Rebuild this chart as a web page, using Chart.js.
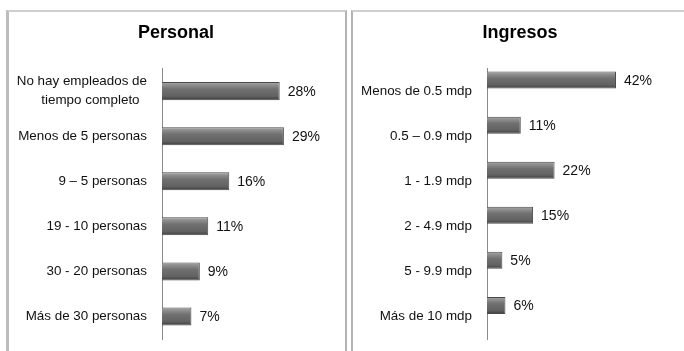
<!DOCTYPE html>
<html>
<head>
<meta charset="utf-8">
<script src="https://cdn.jsdelivr.net/npm/chart.js@4"></script>
<style>
  body { margin: 0; background: #fff; width: 684px; height: 351px; overflow: hidden; position: relative; }
  .panel { position: absolute; top: 10px; height: 360px; border-top: 2px solid #cfcfcf; box-sizing: border-box; }
  #panelLeft { left: 6px; width: 341px; border-left: 3px solid #bdbdbd; border-right: 2px solid #b3b3b3; }
  #panelRight { left: 351px; width: 340px; border-left: 2px solid #b3b3b3; }
  canvas { position: absolute; top: 0; }
  #personal { left: 0; }
  #ingresos { left: 346px; }
</style>
</head>
<body>
<div class="panel" id="panelLeft"></div>
<div class="panel" id="panelRight"></div>
<canvas id="personal" width="368" height="351"></canvas>
<canvas id="ingresos" width="348" height="351"></canvas>
<script>
const personalLabels = [['No hay empleados de', 'tiempo completo  '], 'Menos de 5 personas', '9 – 5 personas', '19 - 10 personas', '30 - 20 personas', 'Más de 30 personas'];
const personalValues = [28, 29, 16, 11, 9, 7];

const ingresosLabels = ['Menos de 0.5 mdp', '0.5 – 0.9 mdp', '1 - 1.9 mdp', '2 - 4.9 mdp', '5 - 9.9 mdp', 'Más de 10 mdp'];
const ingresosValues = [42, 11, 22, 15, 5, 6];

const FONT = 'Liberation Sans, Arial, sans-serif';

// shaded bars: light rim on top, dark underside
const bevelBars = {
    id: 'bevelBars',
    beforeDatasetsDraw(chart) {
        const ctx = chart.ctx;
        chart.getDatasetMeta(0).data.forEach(bar => {
            const top = bar.y - bar.height / 2;
            const g = ctx.createLinearGradient(0, top, 0, top + bar.height);
            g.addColorStop(0, '#a8a8a8');
            g.addColorStop(0.18, '#8c8c8c');
            g.addColorStop(0.4, '#707070');
            g.addColorStop(0.78, '#626262');
            g.addColorStop(1, '#3c3c3c');
            // options are shared between bars, so give each its own copy
            bar.options = Object.assign({}, bar.options, { backgroundColor: g });
        });
    }
};

// percentage text after each bar
const valueLabels = {
    id: 'valueLabels',
    afterDatasetsDraw(chart) {
        const ctx = chart.ctx;
        const values = chart.data.datasets[0].data;
        ctx.save();
        ctx.font = '14px ' + FONT;
        ctx.fillStyle = '#111';
        ctx.textAlign = 'left';
        ctx.textBaseline = 'middle';
        chart.getDatasetMeta(0).data.forEach((bar, i) => {
            ctx.fillText(values[i] + '%', bar.x + 8, bar.y + 1);
        });
        ctx.restore();
    }
};

function makeChart(id, title, labels, datasets, xMax, padRight, axisWidth, lineHeight) {
    return new Chart(document.getElementById(id), {
        type: 'bar',
        data: { labels: labels, datasets: datasets },
        plugins: [bevelBars, valueLabels],
        options: {
            indexAxis: 'y',
            responsive: false,
            animation: false,
            layout: { padding: { left: 0, right: padRight, top: 0, bottom: 12 } },
            plugins: {
                legend: { display: false },
                tooltip: { enabled: false },
                title: {
                    display: true,
                    text: title,
                    color: '#000',
                    font: { family: FONT, size: 18, weight: 'bold' },
                    padding: { top: 22, bottom: 25 }
                }
            },
            scales: {
                x: { display: false, min: 0, max: xMax },
                y: {
                    grid: { display: false, drawTicks: false },
                    border: { display: true, color: '#8a8a8a', width: 1 },
                    ticks: {
                        color: '#111',
                        padding: 15,
                        font: { family: FONT, size: 13.4, lineHeight: lineHeight }
                    },
                    afterFit(scale) {
                        scale.width = axisWidth;
                        scale.paddingTop = 0;
                        scale.paddingBottom = 0;
                    }
                }
            }
        }
    });
}

makeChart('personal', 'Personal', personalLabels, [{
    data: personalValues,
    borderColor: '#4a4a4a',
    borderWidth: 1,
    barPercentage: 0.4,
    categoryPercentage: 1
}], 45.2, 16, 162, 1.42);

makeChart('ingresos', 'Ingresos', ingresosLabels, [{
    data: ingresosValues,
    borderColor: '#4a4a4a',
    borderWidth: 1,
    barPercentage: 0.77,
    categoryPercentage: 0.98
}, {
    data: ingresosValues.map(() => null),
    barPercentage: 0.77,
    categoryPercentage: 0.98
}], 67.4, 0, 141, 1.2);
</script>
</body>
</html>
